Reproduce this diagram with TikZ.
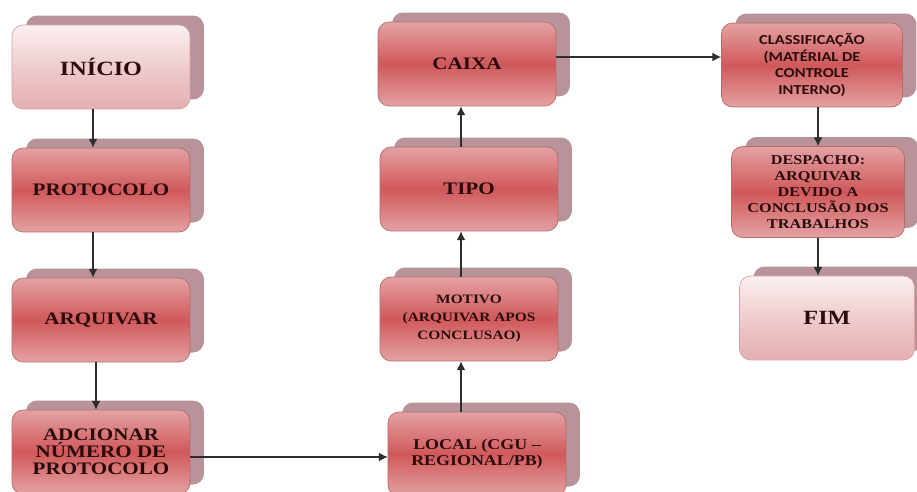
\documentclass[tikz,border=0pt]{standalone}
\usepackage{fontspec}
\setmainfont[FakeStretch=1.2]{Liberation Serif}
\newfontfamily\clsfont[FakeStretch=1.2]{Carlito}
\usetikzlibrary{arrows.meta,shadows}

\definecolor{boxtop}{HTML}{E4A2A3}
\definecolor{boxmid}{HTML}{D0585A}
\definecolor{boxline}{HTML}{B26A6C}
\definecolor{shadowc}{HTML}{B8949A}
\definecolor{endtop}{HTML}{FCF0F0}
\definecolor{endbot}{HTML}{E4AEB0}
\definecolor{txt}{HTML}{2A0C0C}
\definecolor{arrc}{HTML}{2E2E2E}

\tikzset{
  stepbox/.style={rounded corners=0.22cm, draw=boxline, line width=0.4pt,
    top color=boxtop, bottom color=boxtop, middle color=boxmid,
    minimum width=3.56cm, minimum height=1.68cm, inner sep=2pt,
    align=center, text=txt, font=\fontsize{10}{9.8}\selectfont\bfseries,
    copy shadow={shadow xshift=0.28cm, shadow yshift=0.19cm, fill=shadowc, draw=none}},
  endbox/.style={stepbox, draw=endbot!80!boxline,
    top color=endtop, bottom color=endbot, middle color=endtop!45!endbot,
    font=\fontsize{11.5}{11}\selectfont\bfseries},
  flow/.style={draw=arrc, line width=0.6pt, -{Latex[length=5pt,width=5pt]}}
}

\begin{document}
\begin{tikzpicture}[x=0.02cm, y=-0.02cm]
  \useasboundingbox (0,0) rectangle (917,491);
  \clip (0,0) rectangle (917,491);

  % column 1
  \node[endbox] (ini) at (101,67){INÍCIO};
  \node[stepbox] (prot) at (101,190){PROTOCOLO};
  \node[stepbox] (arq) at (101,320){ARQUIVAR};
  \node[stepbox] (adc) at (101,452){ADCIONAR\\NÚMERO DE\\PROTOCOLO};

  % column 2
  \node[stepbox, font=\fontsize{8.5}{9.4}\selectfont\bfseries] (loc) at (477,454){LOCAL (CGU –\\REGIONAL/PB)};
  \node[stepbox, font=\fontsize{7.3}{10.2}\selectfont\bfseries] (mot) at (469,319){MOTIVO\\(ARQUIVAR APOS\\CONCLUSAO)};
  \node[stepbox] (tipo) at (469,189){TIPO};
  \node[stepbox] (caixa) at (467,64){CAIXA};

  % column 3
  \node[stepbox, minimum width=3.62cm, font=\clsfont\fontsize{7.8}{9.5}\selectfont\bfseries] (clas) at (812,65){CLASSIFICAÇÃO\\(MATÉRIAL DE\\CONTROLE\\INTERNO)};
  \node[stepbox, minimum width=3.46cm, minimum height=1.82cm, font=\fontsize{7.7}{9.1}\selectfont\bfseries] (desp) at (818,192){DESPACHO:\\ARQUIVAR\\DEVIDO A\\CONCLUSÃO DOS\\TRABALHOS};
  \node[endbox, minimum width=3.5cm] (fim) at (827,318){FIM};

  % connectors
  \draw[flow] ([xshift=-0.16cm]ini.south) -- ([xshift=-0.16cm]prot.north);
  \draw[flow] ([xshift=-0.16cm]prot.south) -- ([xshift=-0.16cm]arq.north);
  \draw[flow] ([xshift=-0.1cm]arq.south) -- ([xshift=-0.1cm]adc.north);
  \draw[flow] ([yshift=-0.1cm]adc.east) -- ([yshift=-0.1cm]adc.east -| loc.west);
  \draw[flow] ([xshift=-0.16cm]loc.north -| mot) -- ([xshift=-0.16cm]mot.south);
  \draw[flow] ([xshift=-0.16cm]mot.north) -- ([xshift=-0.16cm]tipo.south);
  \draw[flow] ([xshift=-0.16cm]tipo.north) -- ([xshift=-0.16cm]tipo.north |- caixa.south);
  \draw[flow] ([yshift=0.14cm]caixa.east) -- ([yshift=0.14cm]caixa.east -| clas.west);
  \draw[flow] (clas.south -| desp) -- (desp.north);
  \draw[flow] (desp.south) -- (desp.south |- fim.north);

\end{tikzpicture}
\end{document}
